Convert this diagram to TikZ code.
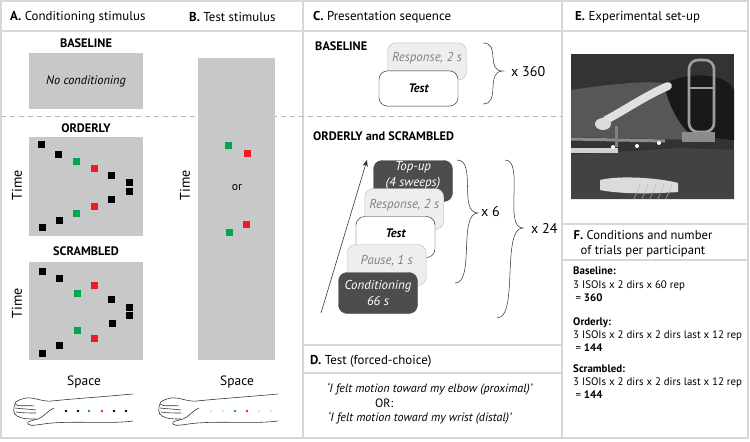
\documentclass[tikz,border=0pt]{standalone}
\usepackage{fontspec}
\setmainfont{PT Sans}
\usetikzlibrary{arrows.meta, calc, positioning}

\definecolor{rulegrey}{RGB}{215,215,215}
\definecolor{panelgrey}{RGB}{200,200,200}
\definecolor{stimgreen}{RGB}{0,166,81}
\definecolor{stimred}{RGB}{237,28,36}
\definecolor{seqdark}{RGB}{77,77,77}
\definecolor{seqlight}{RGB}{238,238,238}
\definecolor{seqedge}{RGB}{190,190,190}
\definecolor{seqtext}{RGB}{128,128,128}
\definecolor{dashgrey}{RGB}{185,185,185}

\begin{document}
\begin{tikzpicture}[x=0.03cm, y=-0.03cm,
    rule/.style={rulegrey, line width=0.9pt},
    header/.style={anchor=west, inner sep=0, font=\fontsize{11}{13}\selectfont},
    condname/.style={inner sep=0, font=\bfseries\fontsize{10.5}{12}\selectfont},
    axislabel/.style={inner sep=0, font=\fontsize{11.5}{13}\selectfont},
    panel/.style={fill=panelgrey},
    seqbox/.style={rounded corners=0.26cm, minimum width=2.37cm, minimum height=1.23cm,
        align=center, inner sep=0, font=\itshape\fontsize{11}{13}\selectfont},
    darkseq/.style={seqbox, fill=seqdark, draw=seqdark, text=white},
    lightseq/.style={seqbox, fill=seqlight, draw=seqedge, text=seqtext},
    testseq/.style={seqbox, fill=white, draw=black!85, font=\bfseries\itshape\fontsize{10.5}{12}\selectfont},
    lift/.style={text depth=#1},
    brace/.style={black!80, line width=0.45pt},
    times/.style={anchor=west, inner sep=0, font=\fontsize{12}{14}\selectfont},
    armline/.style={black!80, line width=0.5pt},
    note/.style={anchor=north west, align=left, inner sep=0, font=\fontsize{9.3}{11.5}\selectfont},
    quote/.style={anchor=west, inner sep=0, font=\itshape\fontsize{10.3}{12}\selectfont},
]
\useasboundingbox (0,0) rectangle (750,441);

% frame and panel rules
\draw[rule] (1,1) rectangle (748,438);
\draw[rule] (1,31) -- (748,31);
\draw[rule] (303,1) -- (303,438);
\draw[rule] (562,1) -- (562,438);
\draw[rule] (303,345) -- (562,345);
\draw[rule] (303,373) -- (562,373);
\draw[rule] (562,224) -- (748,224);
\draw[rule] (562,260) -- (748,260);
\draw[dashgrey, line width=0.6pt, dash pattern=on 4.3pt off 3.4pt] (1,116) -- (562,116);

% headers
\node[header] (hA) at (10,17) {\textbf{A.} Conditioning stimulus};
\node[header] (hB) at (189,17) {\textbf{B.} Test stimulus};
\node[header] (hC) at (313,17) {\textbf{C.} Presentation sequence};
\node[header] (hE) at (575,17) {\textbf{E.} Experimental set-up};
\node[header] (hD) at (310,361) {\textbf{D.} Test (forced-choice)};

% A. conditioning stimulus
\node[condname] (baseA) at (86,43) {BASELINE};
\fill[panel] (29,53) rectangle (143,109);
\node[inner sep=0, font=\itshape\fontsize{10.5}{12}\selectfont] (nocond) at (86,81) {No conditioning};

\node[condname] (orderly) at (86,128) {ORDERLY};
\fill[panel] (29,137) rectangle (143,236);
\foreach \sx/\sy/\sc in {41/144/black, 58/154/black, 76/161/stimgreen, 94/168/stimred,
        111/175/black, 129/182/black, 129/191/black, 111/199/black, 94/206/stimred,
        76/213/stimgreen, 59/220/black, 42/227/black}
    \fill[\sc] (\sx-3.5,\sy-3.5) rectangle ++(7,7);

\node[condname] (scrambled) at (86,251) {SCRAMBLED};
\fill[panel] (29,262) rectangle (143,360);
\foreach \sx/\sy/\sc in {42/271/black, 59/278/black, 94/285/stimred, 77/293/stimgreen,
        111/299/black, 129/307/black, 129/315/black, 112/323/black, 77/330/stimgreen,
        94/338/stimred, 59/345/black, 42/353/black}
    \fill[\sc] (\sx-3.5,\sy-3.5) rectangle ++(7,7);

\node[axislabel, rotate=90, font=\fontsize{12}{14}\selectfont] (timeO) at (17,185) {Time};
\node[axislabel, rotate=90, font=\fontsize{12}{14}\selectfont] (timeS) at (17,303) {Time};
\node[axislabel] (spaceA) at (84,382) {Space};

% B. test stimulus
\fill[panel] (198,58) rectangle (275,360);
\foreach \sx/\sy/\sc in {228/145/stimgreen, 247/153/stimred, 246/224/stimred, 229/232/stimgreen}
    \fill[\sc] (\sx-3.5,\sy-3.5) rectangle ++(7,7);
\node[inner sep=0, font=\fontsize{10}{12}\selectfont] (or) at (237,188) {or};
\node[axislabel, rotate=90, font=\fontsize{12}{14}\selectfont] (timeB) at (185,185) {Time};
\node[axislabel] (spaceB) at (237,382) {Space};

% forearms with tactors
\foreach \ox in {0,145} {
\begin{scope}[shift={(\ox,0)}]
    \draw[armline] (133,394) .. controls (100,397) and (70,399) .. (52,401)
        .. controls (42,402) and (35,397) .. (26,398) .. controls (20,399) and (14,402) .. (15,404)
        .. controls (17,407) and (28,405) .. (34,406);
    \draw[armline] (15,408) .. controls (22,409) and (30,409) .. (36,410);
    \draw[armline] (16,412) .. controls (22,413) and (30,413) .. (36,413);
    \draw[armline] (15,404) .. controls (13,408) and (13,414) .. (17,416)
        .. controls (22,419) and (28,419) .. (36,419);
    \draw[armline] (54,408) .. controls (48,410) and (44,417) .. (38,419)
        .. controls (32,421) and (26,421) .. (28,424) .. controls (30,427) and (40,424) .. (52,423)
        .. controls (80,421) and (110,424) .. (133,421);
\end{scope}
}
\foreach \dx/\dc in {66/black, 78/black, 89/stimgreen, 102/stimred, 114/black, 126/black,
        211/black!12, 223/black!12, 235/stimgreen, 247/stimred, 259/black!12, 271/black!12}
    \fill[\dc] (\dx,411) circle (1.4);

% C. presentation sequence
\node[condname, anchor=west] (baseC) at (315,46) {BASELINE};
\node[lightseq, minimum height=1.12cm, lift=0.25cm] (bresp) at (427,61.5) {Response, 2 s};
\node[testseq, minimum height=1.06cm] (btest) at (418.5,88.5) {Test};
\coordinate (bT) at (483,43);
\coordinate (bP) at (503,71);
\coordinate (bB) at (483,104);
\draw[brace] (bT) .. controls +(18,0) and +(-18,0) .. (bP) .. controls +(-18,0) and +(18,0) .. (bB);
\node[times] (x360) at (511,72) {x 360};

\node[condname, anchor=west] (osC) at (313,136) {ORDERLY and SCRAMBLED};
\node[darkseq, lift=0.42cm] (topup) at (413,181) {Top-up\\(4 sweeps)};
\node[lightseq, lift=0.3cm] (resp) at (404.25,209) {Response, 2 s};
\node[testseq, lift=0.2cm] (test) at (395.5,237) {Test};
\node[lightseq, lift=0.3cm] (pause) at (386.75,265) {Pause, 1 s};
\node[darkseq] (cond) at (378,293) {Conditioning\\66 s};

\coordinate (seqstart) at (321,313);
\coordinate (seqend) at (367,160);
\draw[black!80, line width=0.5pt, -{Stealth[length=2mm, width=1.6mm]}] (seqstart) -- (seqend);

\coordinate (sT) at (457,160);
\coordinate (sP) at (478,213);
\coordinate (sB) at (455,283);
\draw[brace] (sT) .. controls +(20,0) and +(-20,0) .. (sP) .. controls +(-20,0) and +(20,0) .. (sB);
\node[times] (x6) at (481,212) {x 6};

\coordinate (tT) at (505,160);
\coordinate (tP) at (523,228);
\coordinate (tB) at (497,318);
\draw[brace] (tT) .. controls +(20,0) and +(-20,0) .. (tP) .. controls +(-22,0) and +(22,0) .. (tB);
\node[times] (x24) at (531,228) {x 24};

% D. test
\node[quote] (dprox) at (327,389) {‘I felt motion toward my elbow (proximal)’};
\node[quote, font=\fontsize{10.3}{12}\selectfont] (dor) at (375,403) {OR:};
\node[quote] (ddist) at (328,418) {‘I felt motion toward my wrist (distal)’};

% E. experimental set-up (photo)
\begin{scope}
    \clip (571,54) rectangle (734,199);
    \fill[black!80] (571,54) rectangle (734,199);
    \fill[black!66] (571,90) .. controls (610,84) and (650,80) .. (668,84)
        -- (700,140) -- (571,137) -- cycle;
    \fill[black!74] (571,155) -- (680,148) -- (734,150) -- (734,199) -- (571,199) -- cycle;
    \fill[black!90] (664,84) .. controls (690,70) and (728,74) .. (734,90)
        -- (734,140) -- (692,136) .. controls (676,122) and (668,102) .. cycle;
    \draw[black!38, line width=2.2pt, rounded corners=0.27cm] (689,60) rectangle (714,132);
    \draw[black!38, line width=1.2pt] (689,88) -- (714,88);
    \fill[black!45] (682,132) rectangle (715,142);
    \draw[black!12, line width=0.24cm, line cap=round] (668,86) .. controls (645,96) and (625,110) .. (606,120);
    \fill[black!14] (603,124) ellipse (8 and 6);
    \draw[black!45, line width=0.09cm] (571,139) -- (665,141);
    \fill[black!50] (615,126) rectangle (618,147);
    \fill[black!18] (571,148) rectangle (618,153);
    \foreach \px/\py in {613/147, 637/146, 659/143}
        \fill[white] (\px,\py) circle (2);
    \fill[black!14] (600,180) .. controls (620,175) and (660,178) .. (678,183)
        -- (678,192) .. controls (650,194) and (620,194) .. (600,190) -- cycle;
    \foreach \wx in {640,648,656,664,672}
        \draw[black!30, line width=0.4pt] (\wx,184) -- (\wx-6,199);
\end{scope}

% F. conditions and number of trials
\node[align=center, inner sep=0, font=\fontsize{10.8}{13}\selectfont] (hF) at (643,244)
    {\textbf{F.} Conditions and number\\of trials per participant};
\node[note] (nbase) at (573,267) {\textbf{Baseline:}\\3 ISOIs x 2 dirs x 60 rep\\\hspace*{2pt}= \textbf{360}};
\node[note] (norder) at (573,317) {\textbf{Orderly:}\\3 ISOIs x 2 dirs x 2 dirs last x 12 rep\\\hspace*{2pt}= \textbf{144}};
\node[note] (nscram) at (573,364) {\textbf{Scrambled:}\\3 ISOIs x 2 dirs x 2 dirs last x 12 rep\\\hspace*{2pt}= \textbf{144}};
\end{tikzpicture}
\end{document}
